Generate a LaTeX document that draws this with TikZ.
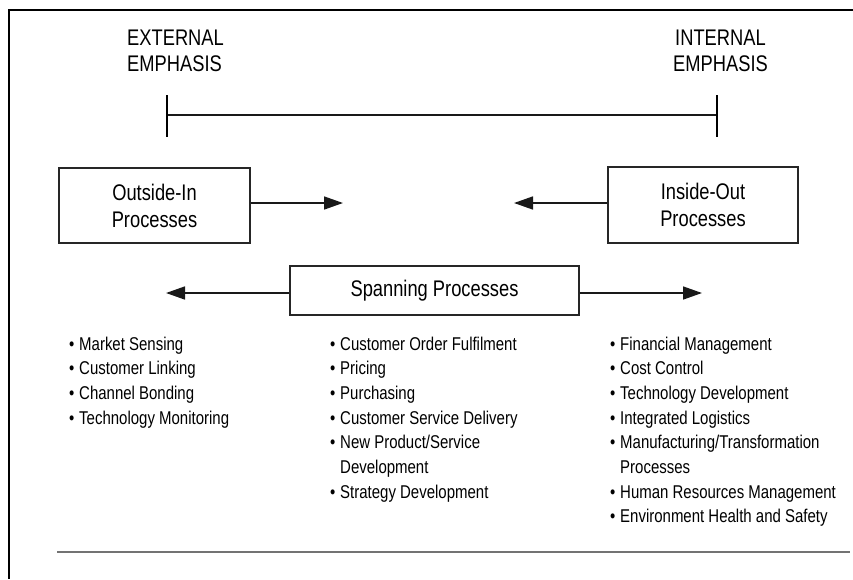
\documentclass[tikz,border=0pt]{standalone}
\usepackage{fontspec}
\setmainfont{Liberation Sans}[FakeStretch=0.81]
\usetikzlibrary{arrows.meta}
\newcommand{\bul}{\makebox[10pt][l]{•}}
\newcommand{\ind}{\hspace*{10pt}}
\begin{document}
\begin{tikzpicture}[x=1pt,y=-1pt,
  big/.style={font=\fontsize{22.6}{27}\selectfont, inner sep=0pt},
  head/.style={big, align=left, anchor=base west},
  item/.style={font=\fontsize{18.5}{24.7}\selectfont, anchor=base west, inner sep=0pt},
  procbox/.style={draw=black!85, line width=1.4pt, big, align=center},
  arr/.style={-{Triangle[length=19pt,width=13pt]}, line width=1.6pt, draw=black!90},
  frameline/.style={line width=2pt, draw=black},
]
\useasboundingbox (0,0) rectangle (853,579);

% frame
\coordinate (ftr) at (853,10);
\coordinate (ftl) at (9,10);
\coordinate (fbl) at (9,579);
\draw[frameline] (ftr) -- (ftl) -- (fbl);

% headings
\node[head] (ext1) at (127,45) {EXTERNAL};
\node[head] (ext2) at (127,71) {EMPHASIS};
\node[head] (int1) at (675,45) {INTERNAL};
\node[head] (int2) at (673,71) {EMPHASIS};

% bar
\coordinate (bl) at (167,115);
\coordinate (br) at (717,115);
\coordinate (blt) at (167,95);
\coordinate (blb) at (167,137);
\coordinate (brt) at (717,95);
\coordinate (brb) at (717,137);
\draw[line width=2.6pt, black!90] (bl) -- (br);
\draw[line width=1.6pt] (blt) -- (blb);
\draw[line width=1.6pt] (brt) -- (brb);

% process boxes
\node[procbox, minimum width=191pt, minimum height=75pt] (oi) at (154.5,205.5) {Outside-In\\Processes};
\node[procbox, minimum width=190pt, minimum height=76pt] (io) at (703,205) {Inside-Out\\Processes};
\node[procbox, minimum width=289pt, minimum height=49pt] (sp) at (434.5,290.5) {Spanning Processes};

\coordinate (a1) at (343,203);
\coordinate (a2) at (514,203);
\coordinate (a3) at (166,293);
\coordinate (a4) at (702,293);
\draw[arr] (oi.east |- a1) -- (a1);
\draw[arr] (io.west |- a2) -- (a2);
\draw[arr] (sp.west |- a3) -- (a3);
\draw[arr] (sp.east |- a4) -- (a4);

% lists
\foreach \t [count=\i from 0] in {{\bul Market Sensing},{\bul Customer Linking},{\bul Channel Bonding},{\bul Technology Monitoring}}
  \node[item] (l\i) at (69,{350+24.7*\i}) {\t};
\foreach \t [count=\i from 0] in {{\bul Customer Order Fulfilment},{\bul Pricing},{\bul Purchasing},{\bul Customer Service Delivery},{\bul New Product/Service},{\ind Development},{\bul Strategy Development}}
  \node[item] (m\i) at (330,{350+24.7*\i}) {\t};
\foreach \t [count=\i from 0] in {{\bul Financial Management},{\bul Cost Control},{\bul Technology Development},{\bul Integrated Logistics},{\bul Manufacturing/Transformation},{\ind Processes},{\bul Human Resources Management},{\bul Environment Health and Safety}}
  \node[item] (r\i) at (610,{350+24.7*\i}) {\t};

% bottom rule
\coordinate (rl) at (57,552);
\coordinate (rr) at (850,552);
\draw[line width=1.8pt, black!55] (rl) -- (rr);
\end{tikzpicture}
\end{document}
